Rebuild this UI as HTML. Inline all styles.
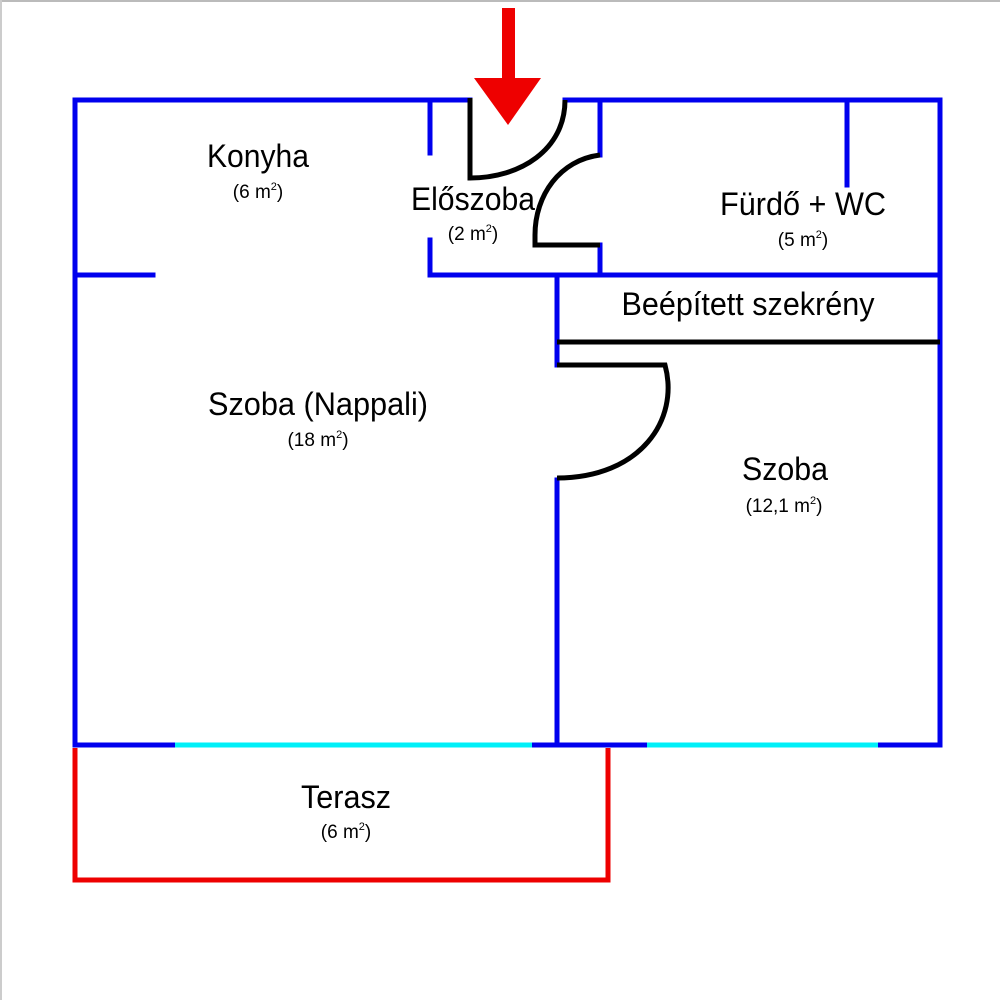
<!DOCTYPE html>
<html><head><meta charset="utf-8"><style>html,body{margin:0;padding:0;background:#fff}svg{display:block}</style></head>
<body>
<svg width="1000" height="1000" viewBox="0 0 1000 1000" xmlns="http://www.w3.org/2000/svg" font-family="Liberation Sans, Arial, sans-serif">
<rect x="0" y="0" width="1000" height="1000" fill="#fff"/>
<line x1="0" y1="1" x2="1000" y2="1" stroke="#bbb" stroke-width="2"/>
<line x1="1" y1="0" x2="1" y2="1000" stroke="#ccc" stroke-width="2"/>
<g stroke="#0000ee" stroke-width="5" fill="none" stroke-linecap="square">
<line x1="75" y1="100" x2="470" y2="100"/>
<line x1="565" y1="100" x2="940" y2="100"/>
<line x1="75" y1="100" x2="75" y2="745"/>
<line x1="940" y1="100" x2="940" y2="745"/>
<line x1="75" y1="275" x2="153" y2="275"/>
<line x1="430" y1="100" x2="430" y2="153"/>
<line x1="430" y1="240" x2="430" y2="275"/>
<line x1="430" y1="275" x2="940" y2="275"/>
<line x1="600" y1="100" x2="600" y2="155"/>
<line x1="600" y1="245" x2="600" y2="275"/>
<line x1="847" y1="100" x2="847" y2="185"/>
<line x1="557" y1="275" x2="557" y2="365"/>
<line x1="557" y1="480" x2="557" y2="745"/>
<line x1="75" y1="745" x2="175" y2="745"/>
<line x1="532" y1="745" x2="647" y2="745"/>
<line x1="878" y1="745" x2="940" y2="745"/>
</g>
<g stroke="#00f0f8" stroke-width="5">
<line x1="175" y1="745" x2="532" y2="745"/>
<line x1="647" y1="745" x2="878" y2="745"/>
</g>
<path d="M75 748 V880 H608 V748" stroke="#ee0000" stroke-width="5" fill="none"/>
<g stroke="#000" stroke-width="5" fill="none">
<path d="M470 98 V178 C520 178 565 150 565 100"/>
<path d="M600 245 H535 V235 C535 195 560 160 600 155"/>
<line x1="557" y1="342" x2="940" y2="342"/>
<path d="M557 365 H665 C680 420 640 478 557 478"/>
</g>
<rect x="502" y="8" width="13" height="72" fill="#ee0000"/>
<polygon points="474,78 541,78 508,125" fill="#ee0000"/>
<g fill="#000" text-anchor="middle">
<text x="258" y="167" font-size="32" textLength="102" lengthAdjust="spacingAndGlyphs">Konyha</text>
<text x="258" y="198" font-size="19">(6 m<tspan font-size="11" dy="-8">2</tspan><tspan dy="8">)</tspan></text>
<text x="473" y="210" font-size="32" textLength="124" lengthAdjust="spacingAndGlyphs">Előszoba</text>
<text x="473" y="240" font-size="19">(2 m<tspan font-size="11" dy="-8">2</tspan><tspan dy="8">)</tspan></text>
<text x="803" y="215" font-size="32" textLength="166" lengthAdjust="spacingAndGlyphs">Fürdő + WC</text>
<text x="803" y="246" font-size="19">(5 m<tspan font-size="11" dy="-8">2</tspan><tspan dy="8">)</tspan></text>
<text x="748" y="315" font-size="32" textLength="253" lengthAdjust="spacingAndGlyphs">Beépített szekrény</text>
<text x="318" y="415" font-size="32" textLength="220" lengthAdjust="spacingAndGlyphs">Szoba (Nappali)</text>
<text x="318" y="446" font-size="19">(18 m<tspan font-size="11" dy="-8">2</tspan><tspan dy="8">)</tspan></text>
<text x="785" y="480" font-size="32" textLength="86" lengthAdjust="spacingAndGlyphs">Szoba</text>
<text x="784" y="512" font-size="19">(12,1 m<tspan font-size="11" dy="-8">2</tspan><tspan dy="8">)</tspan></text>
<text x="346" y="808" font-size="32" textLength="90" lengthAdjust="spacingAndGlyphs">Terasz</text>
<text x="346" y="838" font-size="19">(6 m<tspan font-size="11" dy="-8">2</tspan><tspan dy="8">)</tspan></text>
</g>
</svg>
</body></html>
